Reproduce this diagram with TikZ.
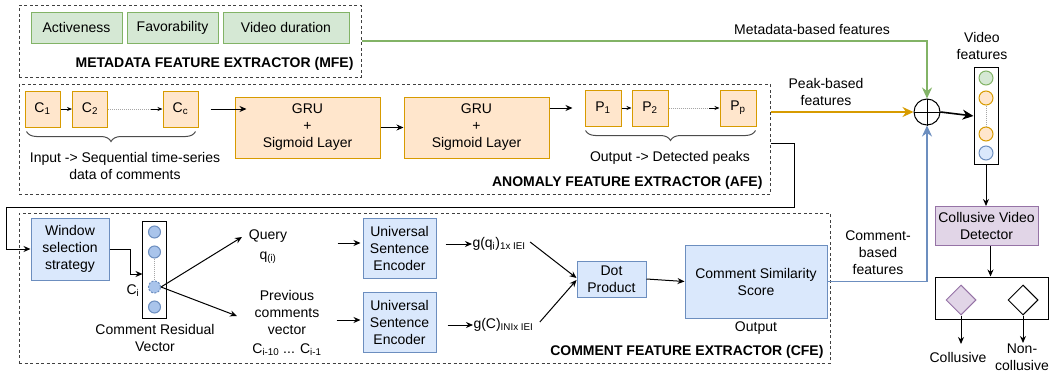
\documentclass[tikz,border=0pt]{standalone}
\usepackage{fontspec}
\setmainfont{Liberation Sans}
\usetikzlibrary{arrows.meta,shapes.geometric,decorations.pathreplacing,calc}
\definecolor{gfill}{HTML}{D5E8D4}\definecolor{gline}{HTML}{82B366}
\definecolor{ofill}{HTML}{FFE6CC}\definecolor{oline}{HTML}{D79B00}
\definecolor{bfill}{HTML}{DAE8FC}\definecolor{bline}{HTML}{6C8EBF}
\definecolor{pfill}{HTML}{E1D5E7}\definecolor{pline}{HTML}{9673A6}
\definecolor{cfill}{HTML}{A9C4EB}
\begin{document}
\begin{tikzpicture}[x=1pt,y=-1pt,line width=1pt,
  every node/.style={inner sep=0pt,align=center,font=\fontsize{14}{17}\selectfont},
  gbox/.style={draw=gline,fill=gfill},
  obox/.style={draw=oline,fill=ofill},
  bbox/.style={draw=bline,fill=bfill},
  pbox/.style={draw=pline,fill=pfill},
  frame/.style={draw=black!75,dash pattern=on 3pt off 2.5pt},
  ttl/.style={anchor=east,font=\fontsize{14}{17}\selectfont\bfseries},
  arr/.style={-{Stealth[length=7pt,width=6pt]}},
  sarr/.style={-{Stealth[length=5pt,width=4pt]}},
  barr/.style={-{Stealth[length=11pt,width=10pt]},line width=1.6pt},
  vdot/.style={draw=gray!70,densely dotted,line width=1pt},
  brc/.style={decorate,decoration={brace,mirror,amplitude=10pt},draw=black!70}]
\useasboundingbox (0,0) rectangle (1060,375);

% ---------- MFE ----------
\node[frame,minimum width=342pt,minimum height=72pt] (mfe) at (190,41) {};
\node[gbox,minimum width=91pt,minimum height=31pt] (act) at (76.5,27.5) {Activeness};
\node[gbox,minimum width=91pt,minimum height=31pt] (fav) at (172.5,27.5) {Favorability};
\node[gbox,minimum width=126pt,minimum height=31pt] (vdur) at (286,27.5) {Video duration};
\node[ttl] (mfel) at (354,64) {METADATA FEATURE EXTRACTOR (MFE)};

% ---------- AFE ----------
\node[frame,minimum width=751pt,minimum height=110pt] (afe) at (394.5,139) {};
\node[obox,minimum width=35pt,minimum height=36pt] (c1) at (42.5,109) {C\textsubscript{1}};
\node[obox,minimum width=35pt,minimum height=36pt] (c2) at (90,109) {C\textsubscript{2}};
\node[obox,minimum width=35pt,minimum height=36pt] (cc) at (180.5,109) {C\textsubscript{c}};
\coordinate (ccin) at (151,109);
\draw[sarr] (c1.east) -- (c2.west);
\draw[vdot] (c2.east) -- (ccin);
\draw[sarr] (ccin) -- (cc.west);
\draw[brc] ([xshift=2pt,yshift=-4pt]c1.south west) -- ([xshift=-3pt,yshift=-4pt]cc.south east);
\node (inl) at (125,166) {Input -> Sequential time-series\\data of comments};
\node[obox,minimum width=145pt,minimum height=61pt] (gru1) at (307.5,127.5) {GRU\\+\\Sigmoid Layer};
\node[obox,minimum width=145pt,minimum height=61pt] (gru2) at (476.5,127.5) {GRU\\+\\Sigmoid Layer};
\draw[arr] ([xshift=12pt]cc.east) -- ([xshift=12pt]cc.east -| gru1.west);
\draw[arr] (gru1.east) -- (gru2.west);
\node[obox,minimum width=36pt,minimum height=36pt] (p1) at (603,108) {P\textsubscript{1}};
\node[obox,minimum width=36pt,minimum height=36pt] (p2) at (650,108) {P\textsubscript{2}};
\node[obox,minimum width=36pt,minimum height=36pt] (pp) at (738,108) {P\textsubscript{p}};
\coordinate (ppin) at (709,108);
\draw[arr] (gru2.east |- p1.west) -- ([xshift=-12pt]p1.west);
\draw[sarr] (p1.east) -- (p2.west);
\draw[vdot] (p2.east) -- (ppin);
\draw[sarr] (ppin) -- (pp.west);
\draw[brc] ([xshift=1pt,yshift=-4pt]p1.south west) -- ([xshift=-1pt,yshift=-4pt]pp.south east);
\node (outl) at (670,158) {Output -> Detected peaks};
\node[ttl] (afel) at (763,183) {ANOMALY FEATURE EXTRACTOR (AFE)};

% ---------- CFE ----------
\node[frame,minimum width=811pt,minimum height=150pt] (cfe) at (424.5,288) {};
\node[bbox,minimum width=78pt,minimum height=62pt] (wss) at (70,249) {Window\\selection\\strategy};
\node[draw,minimum width=24pt,minimum height=97pt] (crv) at (154.5,269.5) {};
\node[circle,draw=bline,fill=cfill,minimum size=12pt] (r1) at (154.5,232) {};
\node[circle,draw=bline,fill=cfill,minimum size=12pt] (r2) at (154.5,252) {};
\node[circle,draw=bline,fill=cfill,dash pattern=on 2pt off 1.5pt,minimum size=12pt] (r3) at (154.5,287) {};
\node[circle,draw=bline,fill=cfill,minimum size=12pt] (r4) at (154.5,307) {};
\draw[vdot] (r2.south) -- (r3.north);
\coordinate (crvin) at (142.5,274);
\draw[arr] (wss.east) -- ++(21,0) |- (crvin);
\node (cil) at (133,291) {C\textsubscript{i}};
\node (crvl) at (155,338) {Comment Residual\\Vector};
\node (query) at (268,247) {Query\\[3pt]q\textsubscript{(i)}};
\node (prev) at (287,323) {Previous\\comments\\vector\\[2pt]C\textsubscript{i-10} ... C\textsubscript{i-1}};
\coordinate (qa) at (242,237);
\coordinate (pa) at (237,316);
\draw[arr] (r3.east) -- (qa);
\draw[arr] (r3.east) -- (pa);
\node[bbox,minimum width=73pt,minimum height=60pt] (use1) at (399.5,248) {Universal\\Sentence\\Encoder};
\node[bbox,minimum width=73pt,minimum height=60pt] (use2) at (399.5,322) {Universal\\Sentence\\Encoder};
\draw[arr] ([yshift=5pt]use1.west) ++(-25,0) -- ([yshift=5pt,xshift=-2pt]use1.west);
\draw[arr] ([yshift=2pt]use2.west) ++(-26,0) -- ([yshift=2pt,xshift=-2pt]use2.west);
\node[anchor=west] (gq) at (472,244) {g(q\textsubscript{i})\textsubscript{1x IEI}};
\node[anchor=west] (gc) at (473,325) {g(C)\textsubscript{INIx IEI}};
\draw[arr] ([xshift=9pt]use1.east |- gq.west) -- (gq.west);
\draw[arr] ([xshift=11pt]use2.east |- gc.west) -- (gc.west);
\node[bbox,minimum width=69pt,minimum height=36pt] (dot) at (611.5,279) {Dot\\Product};
\draw[arr] ([xshift=4pt,yshift=2pt]gq.east) -- ([yshift=1pt]dot.west);
\draw[arr] ([xshift=6pt,yshift=3pt]gc.east) -- ([yshift=-1pt]dot.west);
\node[bbox,minimum width=142pt,minimum height=73pt] (css) at (756,281.5) {Comment Similarity\\Score};
\draw[arr] (dot.east) -- (css.west);
\node (outp) at (756,328) {Output};
\node[ttl] (cfel) at (824,352) {COMMENT FEATURE EXTRACTOR (CFE)};

% ---------- fusion ----------
\node[circle,draw,minimum size=26pt] (plus) at (927,112) {};
\draw (plus.north) -- (plus.south);
\draw (plus.west) -- (plus.east);
\draw[gline,barr] (mfe.east) -| (plus.north);
\node (mbl) at (812,29) {Metadata-based features};
\draw[oline,barr] (afe.east |- plus.west) -- (plus.west);
\node (pbl) at (826,92) {Peak-based\\features};
\draw[bline,barr] (css.east) -| (plus.south);
\node (cbl) at (878,253) {Comment-\\based\\features};
\coordinate (la) at (794,207);
\coordinate (lb) at (6,207);
\draw[arr] ([yshift=-4pt]afe.east) -| (la) -- (lb) |- (wss.west);

% ---------- video features ----------
\node[draw,minimum width=24pt,minimum height=97pt] (vf) at (986,116) {};
\node[circle,draw=gline,fill=gfill,minimum size=14pt] (v1) at (986,78) {};
\node[circle,draw=oline,fill=ofill,minimum size=14pt] (v2) at (986,98) {};
\node[circle,draw=oline,fill=ofill,minimum size=14pt] (v3) at (986,134) {};
\node[circle,draw=bline,fill=bfill,minimum size=14pt] (v4) at (986,153) {};
\draw[vdot] (v2.south) -- (v3.north);
\node (vfl) at (982,46) {Video\\features};
\draw[barr] (plus.east) -- (vf.west);
\node[pbox,minimum width=103pt,minimum height=39pt] (cvd) at (986.5,226) {Collusive Video\\Detector};
\draw[arr] (vf.south) -- (vf.south |- cvd.north);
\node[draw,minimum width=113pt,minimum height=42pt] (outbox) at (991.5,298) {};
\draw[arr] ([xshift=4pt]cvd.south) -- ([xshift=4pt]cvd.south |- outbox.north);
\node[diamond,draw=pline,fill=pfill,minimum size=30pt] (dc) at (961,300) {};
\node[diamond,draw,fill=white,minimum size=30pt] (dn) at (1023,300) {};
\node (coll) at (958,357) {Collusive};
\node (ncoll) at (1022,357) {Non-\\collusive};
\coordinate (da) at (961,344);
\coordinate (db) at (1023,343);
\draw[arr] (dc.south) -- (da);
\draw[arr] (dn.south) -- (db);
\end{tikzpicture}
\end{document}
